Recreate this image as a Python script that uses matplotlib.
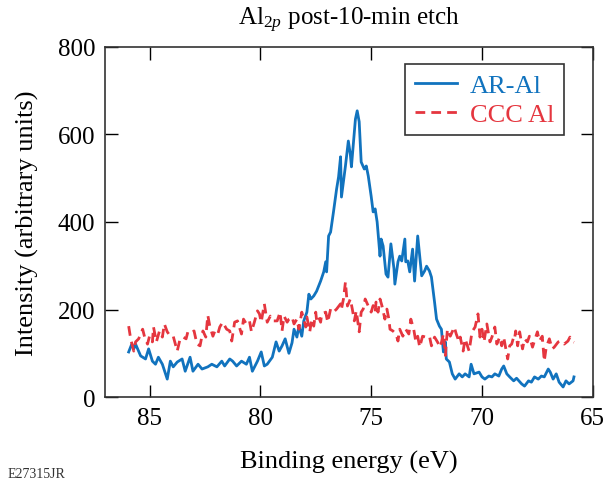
#!/usr/bin/env python3
"""
Al 2p XPS spectra after a 10-min etch: AR-Al vs CCC Al.
"""

import matplotlib.pyplot as plt

plt.rcParams.update({
    'font.family': 'serif',
    'font.serif': ['Liberation Serif', 'DejaVu Serif'],
    'mathtext.fontset': 'custom',
    'mathtext.rm': 'Liberation Serif',
    'mathtext.it': 'Liberation Serif:italic',
    'font.size': 19,
})

# Binding energy (eV) and intensity (arb. units)
energy_ar = [
    85.94, 85.80, 85.71, 85.63, 85.40, 85.18, 85.04, 84.87, 84.73, 84.60,
    84.42, 84.20, 84.06, 83.93, 83.75, 83.53, 83.39, 83.17, 83.04, 82.81,
    82.63, 82.37, 82.19, 81.96, 81.74, 81.61, 81.38, 81.25, 81.07, 80.85,
    80.63, 80.49, 80.36, 80.13, 79.96, 79.82, 79.69, 79.46, 79.29, 79.15,
    79.02, 78.88, 78.71, 78.57, 78.48, 78.35, 78.26, 78.13, 78.04, 77.90,
    77.81, 77.72, 77.59, 77.46, 77.28, 77.14, 77.05, 77.01, 76.92, 76.83,
    76.70, 76.56, 76.47, 76.38, 76.34, 76.16, 76.03, 75.94, 75.89, 75.71,
    75.63, 75.54, 75.45, 75.31, 75.22, 75.13, 75.00, 74.91, 74.82, 74.73,
    74.60, 74.55, 74.46, 74.33, 74.24, 74.11, 73.97, 73.93, 73.79, 73.71,
    73.62, 73.48, 73.44, 73.35, 73.26, 73.13, 73.04, 72.90, 72.81, 72.72,
    72.59, 72.50, 72.37, 72.28, 72.14, 72.05, 71.92, 71.83, 71.74, 71.65,
    71.61, 71.47, 71.34, 71.21, 71.03, 70.89, 70.76, 70.58, 70.49, 70.36,
    70.13, 70.00, 69.87, 69.69, 69.55, 69.42, 69.24, 69.11, 69.02, 68.88,
    68.75, 68.57, 68.44, 68.21, 68.08, 67.90, 67.77, 67.63, 67.46, 67.32,
    67.19, 67.01, 66.92, 66.79, 66.65, 66.52, 66.34, 66.21, 66.07, 65.89,
    65.85,
]
ar_al = [
    103, 121, 110, 121, 94, 87, 110, 82, 75, 91,
    75, 41, 82, 69, 80, 87, 59, 91, 59, 75,
    64, 69, 75, 69, 82, 71, 87, 82, 71, 82,
    75, 91, 59, 82, 103, 71, 75, 91, 126, 105,
    117, 133, 100, 124, 155, 137, 162, 139, 174, 194,
    235, 224, 231, 242, 265, 286, 309, 286, 368, 377,
    423, 475, 503, 549, 457, 528, 585, 555, 526, 635,
    654, 629, 537, 521, 528, 505, 459, 423, 430, 400,
    322, 361, 345, 281, 274, 350, 293, 258, 309, 322,
    311, 361, 309, 311, 286, 338, 265, 368, 322, 277,
    288, 299, 288, 274, 217, 178, 162, 155, 103, 126,
    87, 80, 53, 41, 53, 46, 53, 46, 75, 53,
    57, 46, 41, 48, 46, 53, 48, 64, 71, 53,
    46, 37, 43, 30, 25, 37, 34, 46, 41, 48,
    46, 64, 57, 41, 53, 34, 23, 37, 30, 37,
    46,
]

energy_ccc = [
    85.94, 85.85, 85.71, 85.63, 85.49, 85.31, 85.22, 85.09, 85.00, 84.87,
    84.82, 84.69, 84.55, 84.42, 84.33, 84.20, 84.06, 83.93, 83.75, 83.62,
    83.48, 83.35, 83.26, 83.08, 82.99, 82.86, 82.72, 82.59, 82.46, 82.37,
    82.28, 82.14, 82.05, 81.92, 81.83, 81.70, 81.52, 81.38, 81.29, 81.16,
    81.03, 80.85, 80.76, 80.63, 80.49, 80.40, 80.27, 80.13, 80.04, 79.96,
    79.82, 79.69, 79.55, 79.42, 79.24, 79.11, 79.02, 78.93, 78.79, 78.71,
    78.57, 78.48, 78.35, 78.26, 78.13, 78.04, 77.95, 77.90, 77.77, 77.68,
    77.59, 77.50, 77.46, 77.37, 77.28, 77.23, 77.05, 76.96, 76.83, 76.70,
    76.56, 76.38, 76.34, 76.25, 76.16, 76.07, 75.94, 75.85, 75.76, 75.67,
    75.54, 75.45, 75.36, 75.27, 75.13, 75.00, 74.91, 74.82, 74.78, 74.69,
    74.60, 74.51, 74.38, 74.29, 74.20, 74.15, 74.02, 73.88, 73.79, 73.71,
    73.57, 73.44, 73.30, 73.21, 73.08, 72.99, 72.90, 72.81, 72.68, 72.54,
    72.37, 72.28, 72.14, 72.01, 71.88, 71.74, 71.65, 71.56, 71.43, 71.25,
    71.16, 71.03, 70.98, 70.85, 70.76, 70.58, 70.45, 70.31, 70.18, 70.09,
    70.00, 69.91, 69.78, 69.64, 69.55, 69.42, 69.33, 69.20, 69.11, 69.02,
    68.84, 68.75, 68.66, 68.57, 68.53, 68.48, 68.39, 68.30, 68.17, 68.08,
    67.95, 67.86, 67.72, 67.63, 67.50, 67.41, 67.28, 67.19, 67.10, 66.96,
    66.83, 66.74, 66.56, 66.43, 66.29, 66.12, 66.03, 65.89, 65.85,
]
ccc_al = [
    162, 133, 105, 126, 133, 155, 137, 121, 139, 126,
    160, 126, 151, 137, 167, 149, 139, 139, 105, 133,
    137, 133, 151, 149, 151, 121, 117, 151, 137, 187,
    162, 139, 151, 144, 160, 171, 155, 151, 128, 171,
    174, 144, 178, 167, 174, 149, 171, 197, 190, 171,
    213, 171, 185, 174, 174, 194, 151, 185, 171, 178,
    183, 167, 178, 155, 194, 178, 160, 183, 149, 178,
    162, 194, 174, 183, 171, 190, 194, 171, 201, 194,
    201, 213, 201, 224, 263, 208, 224, 201, 174, 197,
    149, 194, 201, 224, 208, 194, 209, 194, 217, 194,
    224, 208, 178, 201, 178, 155, 151, 144, 128, 155,
    139, 155, 144, 178, 155, 128, 139, 114, 139, 137,
    139, 117, 137, 126, 114, 144, 95, 155, 139, 160,
    144, 126, 137, 105, 133, 105, 149, 160, 190, 137,
    155, 126, 167, 126, 137, 160, 121, 137, 117, 137,
    87, 117, 121, 137, 133, 151, 117, 149, 110, 133,
    126, 139, 114, 128, 149, 128, 139, 82, 114, 133,
    110, 114, 126, 128, 121, 128, 137, 126, 125,
]

blue = '#1173BE'
red = '#E5363F'

fig = plt.figure(figsize=(6.08, 4.89), dpi=100)
ax = fig.add_axes([0.173, 0.186, 0.802, 0.716])

ax.plot(energy_ar, ar_al, color=blue, lw=2.0, label='AR-Al')
ax.plot(energy_ccc, ccc_al, color=red, lw=2.0, dashes=(3.5, 2.2), label='CCC Al')

ax.set_xlim(87, 65)
ax.set_ylim(0, 800)
ax.set_xticks([85, 80, 75, 70, 65])
ax.set_yticks([0, 200, 400, 600, 800])
ax.tick_params(direction='in', length=9, width=1, top=True, right=True, pad=7,
               labelsize=18)
for side in ax.spines.values():
    side.set_color('#333333')
    side.set_linewidth(1.2)

ax.set_xlabel('Binding energy (eV)', labelpad=15)
ax.set_ylabel('Intensity (arbitrary units)', labelpad=14)
ax.set_title(r'Al$_{2p}$ post-10-min etch', fontsize=18, pad=16)

leg = ax.legend(loc='upper right', bbox_to_anchor=(0.94, 0.95), borderaxespad=0,
                fancybox=False, edgecolor='#333333', framealpha=1, fontsize=19,
                handlelength=1.6, borderpad=0.35, labelspacing=0.2,
                handletextpad=0.5)
leg.get_frame().set_linewidth(1.2)
for txt, col in zip(leg.get_texts(), [blue, red]):
    txt.set_color(col)

fig.text(0.013, 0.022, 'E27315JR', fontsize=10, color='#333333')

fig.savefig('out.png', dpi=100, facecolor='white')
plt.close(fig)
